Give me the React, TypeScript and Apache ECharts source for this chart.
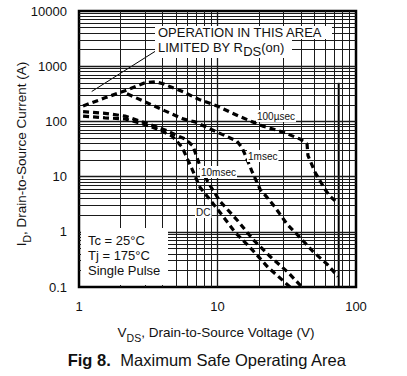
import React, { useEffect, useRef } from 'react';
import * as echarts from 'echarts';

const xTickLabels = ['1', '10', '100'];
const yTickLabels = ['0.1', '1', '10', '100', '1000', '10000'];

const us100V = [1.07, 1.54, 2.15, 3.0, 3.54, 4.04, 4.77, 5.64, 7.47, 9.92, 14.1, 21.0, 29.7, 39.4, 44.3, 45.0, 50.6, 59.7, 64.9, 72.9];
const us100I = [191, 267, 359, 501, 523, 481, 406, 344, 246, 191, 126, 83, 64, 48, 39, 24, 12, 5.9, 4.4, 3.4];

const ms1V = [2.22, 3.0, 4.18, 5.64, 6.88, 9.92, 13.8, 15.0, 16.3, 17.7, 20.3, 22.8, 26.0, 31.8, 39.4, 48.9, 61.8, 74.1];
const ms1I = [316, 226, 155, 111, 98, 64, 44, 34, 21, 12.6, 5.9, 4.2, 2.8, 1.37, 0.79, 0.44, 0.26, 0.155];

const ms10V = [1.07, 1.54, 2.15, 3.0, 4.18, 5.82, 6.65, 7.47, 8.54, 10.4, 14.1, 18.0, 23.9, 32.3, 40.7];
const ms10I = [150, 140, 125, 94, 70, 48, 36, 15.5, 7.9, 3.6, 1.55, 0.73, 0.36, 0.184, 0.1];

const dcV = [1.07, 1.54, 2.15, 2.9, 3.66, 4.69, 5.54, 6.55, 7.47, 8.54, 10.4, 13.4, 17.7, 23.2, 30.7, 33.4];
const dcI = [125, 116, 111, 90, 73, 54.5, 34.4, 13.7, 6.4, 4.24, 2.26, 0.98, 0.48, 0.226, 0.121, 0.1];

const pointerV = [1.235, 3.64];
const pointerI = [348, 1937];

const limitV = [75, 75];
const limitI = [500, 0.1];

const xDecades = [1, 10];
const yDecades = [0.1, 1, 10, 100, 1000];
const multipliers = [1, 2, 3, 4, 5, 6, 7, 8, 9];

const FONT = '"Liberation Sans", Arial, Helvetica, sans-serif';
const INK = '#111';

const zip = (a: number[], b: number[]) => a.map((v, i) => [v, b[i]]);

function buildOption() {
  const gridLines: any[] = [];
  xDecades.forEach((d) =>
    multipliers.forEach((m) => {
      const v = d * m;
      if (v <= 1) return;
      gridLines.push({ xAxis: v, lineStyle: { width: m === 1 ? 1.3 : 1 } });
    })
  );
  yDecades.forEach((d) =>
    multipliers.forEach((m) => {
      const v = d * m;
      if (v <= 0.1) return;
      gridLines.push({ yAxis: v, lineStyle: { width: m === 1 ? 1.3 : 1 } });
    })
  );

  const curve = (v: number[], i: number[]) => ({
    type: 'line',
    data: zip(v, i),
    symbol: 'none',
    silent: true,
    z: 5,
    lineStyle: { color: '#000', width: 3.2, type: [6, 4], cap: 'butt' },
  });

  const rect = (x: number, y: number, w: number, h: number) => ({
    type: 'rect',
    z: 100,
    silent: true,
    shape: { x, y, width: w, height: h },
    style: { fill: '#fff' },
  });
  const text = (x: number, y: number, t: string, size: number, extra: any = {}) => ({
    type: 'text',
    z: 101,
    silent: true,
    x,
    y,
    style: {
      text: t,
      fill: INK,
      fontSize: size,
      fontFamily: FONT,
      align: 'left',
      verticalAlign: 'middle',
      ...extra,
    },
  });

  return {
    animation: false,
    backgroundColor: '#fff',
    grid: {
      left: 79,
      right: 51,
      top: 11,
      bottom: 89,
      show: true,
      borderColor: '#000',
      borderWidth: 2.5,
    },
    xAxis: {
      type: 'log',
      logBase: 10,
      min: 1,
      max: 100,
      axisLine: { show: false },
      axisTick: { show: false },
      splitLine: { show: false },
      axisLabel: {
        margin: 13,
        color: INK,
        fontSize: 13,
        fontFamily: FONT,
        formatter: (v: number) => xTickLabels[Math.round(Math.log10(v))] ?? '',
      },
    },
    yAxis: {
      type: 'log',
      logBase: 10,
      min: 0.1,
      max: 10000,
      axisLine: { show: false },
      axisTick: { show: false },
      splitLine: { show: false },
      axisLabel: {
        margin: 12,
        color: INK,
        fontSize: 13,
        fontFamily: FONT,
        formatter: (v: number) => yTickLabels[Math.round(Math.log10(v)) + 1] ?? '',
      },
    },
    series: [
      {
        type: 'line',
        data: zip(pointerV, pointerI),
        symbol: 'none',
        silent: true,
        z: 3,
        lineStyle: { color: '#000', width: 1 },
        markLine: {
          silent: true,
          symbol: 'none',
          label: { show: false },
          animation: false,
          lineStyle: { color: '#1a1a1a', width: 1, type: 'solid' },
          data: gridLines,
        },
      },
      {
        type: 'line',
        data: zip(limitV, limitI),
        symbol: 'none',
        silent: true,
        z: 4,
        lineStyle: { color: '#000', width: 2 },
      },
      curve(us100V, us100I),
      curve(ms1V, ms1I),
      curve(ms10V, ms10I),
      curve(dcV, dcI),
    ],
    graphic: [
      rect(155, 26, 177, 13),
      rect(155, 39, 137, 19),
      rect(81, 228, 87, 57),
      text(158, 32, 'OPERATION IN THIS AREA', 13),
      {
        type: 'text',
        z: 101,
        silent: true,
        x: 158,
        y: 47,
        style: {
          text: '{m|LIMITED BY R}{s|DS}{m|(on)}',
          fill: INK,
          align: 'left',
          verticalAlign: 'middle',
          rich: {
            m: { fontSize: 13, fontFamily: FONT, lineHeight: 22, fill: INK },
            s: { fontSize: 13, fontFamily: FONT, lineHeight: 12, verticalAlign: 'bottom', fill: INK },
          },
        },
      },
      text(88, 240, 'Tc = 25°C', 13),
      text(88, 255, 'Tj = 175°C', 13),
      text(88, 270, 'Single Pulse', 13),
      text(256, 116, '100µsec', 10, { backgroundColor: '#fff', padding: [1, 1, 1, 1] }),
      text(247, 156, '1msec', 10, { backgroundColor: '#fff', padding: [1, 1, 1, 1] }),
      text(200, 172, '10msec', 10, { backgroundColor: '#fff', padding: [1, 1, 1, 1] }),
      text(195, 212, 'DC', 10, { backgroundColor: '#fff', padding: [1, 1, 1, 1] }),
      {
        type: 'text',
        z: 101,
        silent: true,
        x: 216,
        y: 332,
        style: {
          text: '{m|V}{s|DS}{m|, Drain-to-Source Voltage (V)}',
          fill: INK,
          align: 'center',
          verticalAlign: 'middle',
          rich: {
            m: { fontSize: 13.5, fontFamily: FONT, lineHeight: 22, fill: INK },
            s: { fontSize: 10.5, fontFamily: FONT, lineHeight: 12, verticalAlign: 'bottom', fill: INK },
          },
        },
      },
      {
        type: 'text',
        z: 101,
        silent: true,
        x: 21,
        y: 154,
        rotation: Math.PI / 2,
        style: {
          text: '{m|I}{s|D}{m|, Drain-to-Source Current (A)}',
          fill: INK,
          align: 'center',
          verticalAlign: 'middle',
          rich: {
            m: { fontSize: 13.5, fontFamily: FONT, lineHeight: 22, fill: INK },
            s: { fontSize: 10.5, fontFamily: FONT, lineHeight: 12, verticalAlign: 'bottom', fill: INK },
          },
        },
      },
      {
        type: 'text',
        z: 101,
        silent: true,
        x: 207,
        y: 360,
        style: {
          text: '{b|Fig 8.}{m|  Maximum Safe Operating Area}',
          fill: INK,
          align: 'center',
          verticalAlign: 'middle',
          rich: {
            b: { fontSize: 16.5, fontFamily: FONT, fontWeight: 'bold', fill: INK },
            m: { fontSize: 16.5, fontFamily: FONT, fill: INK },
          },
        },
      },
    ],
  };
}

export default function App() {
  const ref = useRef<HTMLDivElement>(null);
  useEffect(() => {
    if (!ref.current) return;
    const chart = echarts.init(ref.current, undefined, { renderer: 'svg' });
    chart.setOption(buildOption() as any);
    return () => chart.dispose();
  }, []);
  return (
    <div
      ref={ref}
      style={{ position: 'fixed', left: 0, top: 0, width: 407, height: 376, background: '#fff' }}
    />
  );
}
